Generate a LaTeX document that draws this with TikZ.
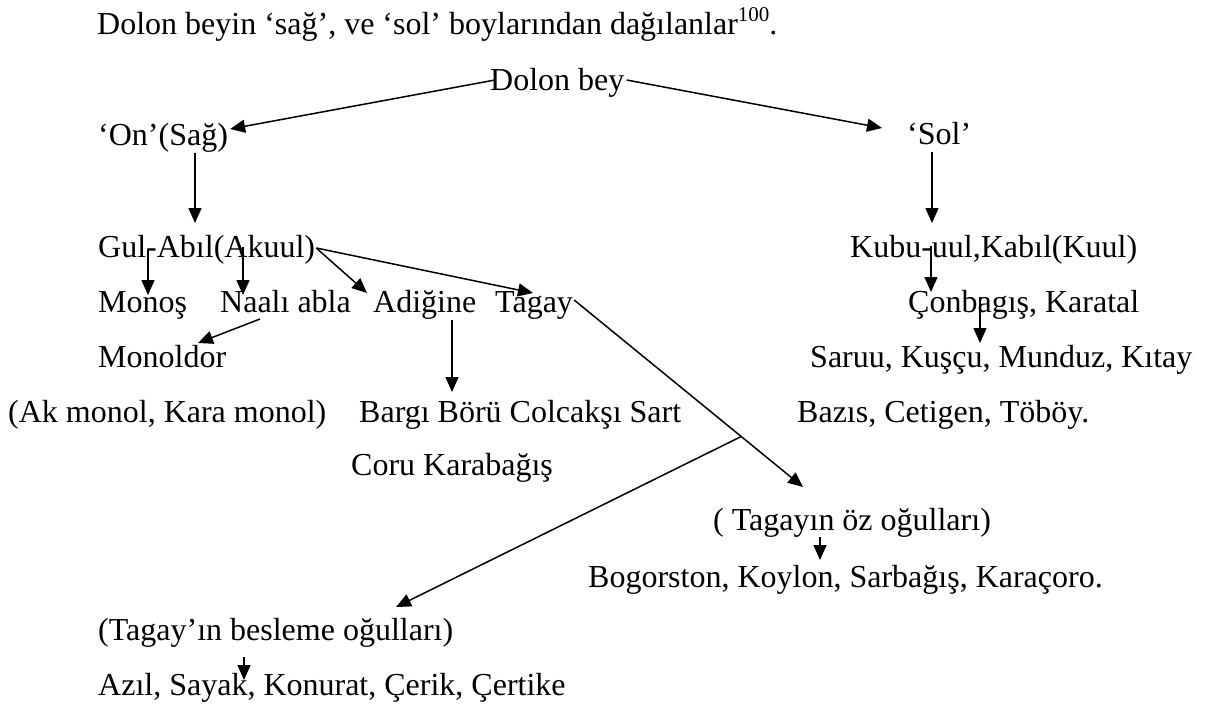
\documentclass[tikz,border=0pt]{standalone}
\usepackage{fontspec}
\setmainfont{Liberation Serif}
\usepackage{tikz}
\usetikzlibrary{arrows.meta}
\tikzset{lbl/.style={anchor=base west, inner sep=0pt},
    -tri-/.style={-{Triangle[length=15pt,width=13pt]}, line width=1.5pt}
}

\begin{document}
\begin{tikzpicture}[x=1pt,y=-1pt]
                \path[use as bounding box, fill=white] (0,0) rectangle (1206,706);
                \fontsize{32}{37}\selectfont

                % Labels
                \node[lbl] (title) at (97,35) {Dolon beyin ‘sağ’, ve ‘sol’ boylarından dağılanlar\raisebox{13pt}{\fontsize{21}{21}\selectfont 100}.};
                \node[lbl] (dolon) at (490,91) {Dolon bey};
                \node[lbl] (on) at (98,145) {‘On’(Sağ)};
                \node[lbl] (sol) at (907,144) {‘Sol’};
                \node[lbl] (gul) at (98,257) {Gul-Abıl(Akuul)};
                \node[lbl] (kubu) at (850,257) {Kubu-uul,Kabıl(Kuul)};
                \node[lbl] (monos) at (98,312) {Monoş};
                \node[lbl] (naali) at (220,312) {Naalı abla};
                \node[lbl] (adigine) at (373,312) {Adiğine};
                \node[lbl] (tagay) at (495,312) {Tagay};
                \node[lbl] (conbagis) at (908,312) {Çonbagış, Karatal};
                \node[lbl] (monoldor) at (98,367) {Monoldor};
                \node[lbl] (saruu) at (810,367) {Saruu, Kuşçu, Munduz, Kıtay};
                \node[lbl] (akmonol) at (8,422) {(Ak monol, Kara monol)};
                \node[lbl] (bargi) at (359,422) {Bargı Börü Colcakşı Sart};
                \node[lbl] (bazis) at (797,422) {Bazıs, Cetigen, Töböy.};
                \node[lbl] (coru) at (351,475) {Coru Karabağış};
                \node[lbl] (tagayoz) at (713,530) {( Tagayın öz oğulları)};
                \node[lbl] (bogorston) at (588,587) {Bogorston, Koylon, Sarbağış, Karaçoro.};
                \node[lbl] (besleme) at (98,640) {(Tagay’ın besleme oğulları)};
                \node[lbl] (azil) at (98,695) {Azıl, Sayak, Konurat, Çerik, Çertike};

                % Dolon bey
                \draw[-tri-] ([xshift=5pt,yshift=11pt]dolon.base west) -- ([xshift=2pt,yshift=16pt]on.base east);
                \draw[-tri-] ([xshift=2pt,yshift=11pt]dolon.base east) -- ([xshift=-25pt,yshift=16pt]sol.base west);
                \draw[-tri-] ([xshift=97pt,yshift=-8pt]on.base west) -- ([xshift=97pt,yshift=34pt]gul.base west);
                \draw[-tri-] ([xshift=25pt,yshift=-8pt]sol.base west) -- ([xshift=82pt,yshift=34pt]kubu.base west);

                % Sag
                \draw[-tri-] ([xshift=50pt,yshift=7pt]gul.base west) -- ([xshift=50pt,yshift=17pt]monos.base west);
                \draw[-tri-] ([xshift=145pt,yshift=10pt]gul.base west) -- ([xshift=23pt,yshift=17pt]naali.base west);
                \draw[-tri-] ([xshift=1pt,yshift=9pt]gul.base east) -- ([xshift=-6pt,yshift=19pt]adigine.base west);
                \draw[-tri-] ([xshift=1pt,yshift=9pt]gul.base east) -- ([xshift=38pt,yshift=19pt]tagay.base west);
                \draw[-tri-] ([xshift=40pt,yshift=-7pt]naali.base west) -- ([xshift=100pt,yshift=24pt]monoldor.base west);
                \draw[-tri-] ([xshift=79pt,yshift=-8pt]adigine.base west) -- ([xshift=93pt,yshift=30pt]bargi.base west);

                % Tagay
                \draw[-tri-] ([xshift=1pt,yshift=12pt]tagay.base east) -- coordinate[pos=0.73] (split) ([xshift=90pt,yshift=43pt]tagayoz.base west);
                \draw[-tri-] (split) -- ([xshift=298pt,yshift=33pt]besleme.base west);
                \draw[-tri-] ([xshift=107pt,yshift=-7pt]tagayoz.base west) -- ([xshift=232pt,yshift=27pt]bogorston.base west);
                \draw[-tri-] ([xshift=146pt,yshift=-17pt]besleme.base west) -- ([xshift=146pt,yshift=15pt]azil.base west);

                % Sol
                \draw[-tri-] ([xshift=81pt,yshift=11pt]kubu.base west) -- ([xshift=23pt,yshift=20pt]conbagis.base west);
                \draw[-tri-] ([xshift=72pt,yshift=15pt]conbagis.base west) -- ([xshift=170pt,yshift=24pt]saruu.base west);
\end{tikzpicture}
\end{document}
